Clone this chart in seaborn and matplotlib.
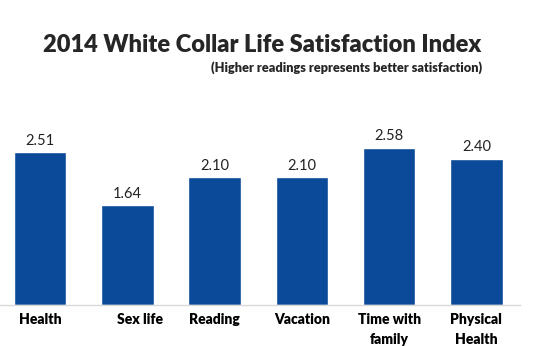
import matplotlib
matplotlib.use("Agg")
import matplotlib.pyplot as plt
import matplotlib.transforms as mtransforms
import seaborn as sns
import pandas as pd

categories = ["Health", "Sex life", "Reading", "Vacation", "Time with\nfamily", "Physical\nHealth"]
values = [2.51, 1.64, 2.10, 2.10, 2.58, 2.40]
value_labels = ["2.51", "1.64", "2.10", "2.10", "2.58", "2.40"]
title = "2014 White Collar Life Satisfaction Index"
subtitle = "(Higher readings represents better satisfaction)"

sns.set_theme(style="white")
plt.rcParams["font.family"] = ["Lato", "DejaVu Sans"]

df = pd.DataFrame({"cat": categories, "val": values})

fig = plt.figure(figsize=(5.5, 3.46), dpi=100)
ax = fig.add_axes([-0.0065, 0.1185, 0.952, 0.529])
sns.barplot(data=df, x="cat", y="val", color="#0B4A98", saturation=1, width=0.6, ax=ax)
ax.set_xlim(-0.5, 5.5)
ax.set_ylim(0, 3)
ax.set_xlabel("")
ax.set_ylabel("")
ax.set_yticks([])
for s in ["top", "right", "left"]:
    ax.spines[s].set_visible(False)
ax.spines["bottom"].set_color("#D9D9D9")
ax.spines["bottom"].set_linewidth(1)
ax.tick_params(axis="x", length=0, pad=6)
ax.set_xticks(range(len(categories)))
ax.set_xticklabels(categories, fontsize=10, fontweight="heavy", color="black", linespacing=1.6)
offset = mtransforms.ScaledTranslation(13 / 100, 0, fig.dpi_scale_trans)
lab = ax.get_xticklabels()[1]
lab.set_transform(lab.get_transform() + offset)

for p, t in zip(ax.patches, value_labels):
    ax.annotate(t, (p.get_x() + p.get_width() / 2, p.get_height()), xytext=(0, 3),
                textcoords="offset points", ha="center", va="bottom", fontsize=10.5, color="#222222")

fig.text(262 / 550, 1 - 45 / 346, title, ha="center", va="center", fontsize=17, fontweight="heavy")
fig.text(482 / 550, 1 - 68 / 346, subtitle, ha="right", va="center", fontsize=9.2, fontweight="heavy")

fig.savefig("out.png", dpi=100)
